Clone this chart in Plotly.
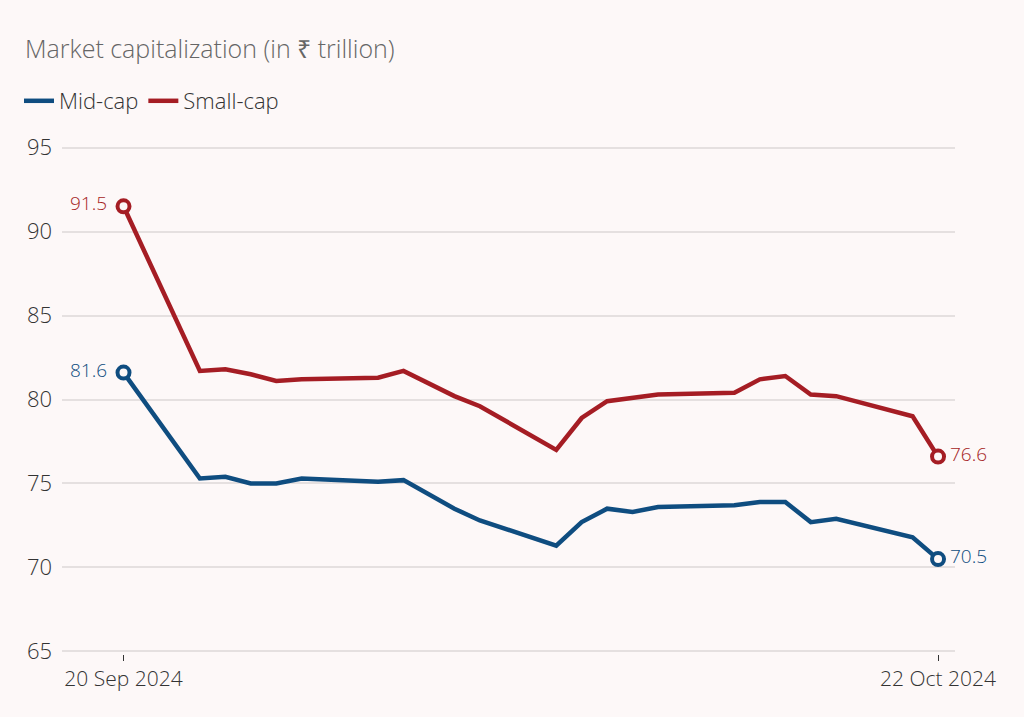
import plotly.graph_objects as go

dates = ["2024-09-20", "2024-09-23", "2024-09-24", "2024-09-25", "2024-09-26", "2024-09-27",
         "2024-09-30", "2024-10-01", "2024-10-03", "2024-10-04", "2024-10-07", "2024-10-08",
         "2024-10-09", "2024-10-10", "2024-10-11", "2024-10-14", "2024-10-15", "2024-10-16",
         "2024-10-17", "2024-10-18", "2024-10-21", "2024-10-22"]
mid_cap = [81.6, 75.3, 75.4, 75.0, 75.0, 75.3, 75.1, 75.2, 73.5, 72.8, 71.3, 72.7,
           73.5, 73.3, 73.6, 73.7, 73.9, 73.9, 72.7, 72.9, 71.8, 70.5]
small_cap = [91.5, 81.7, 81.8, 81.5, 81.1, 81.2, 81.3, 81.7, 80.2, 79.6, 77.0, 78.9,
             79.9, 80.1, 80.3, 80.4, 81.2, 81.4, 80.3, 80.2, 79.0, 76.6]
y_ticks = [65, 70, 75, 80, 85, 90, 95]
x_tickvals = ["2024-09-20", "2024-10-22"]
x_ticktext = ["20 Sep 2024", "22 Oct 2024"]

BLUE = "#0f4d80"
RED = "#a51d24"
BG = "#fdf8f8"
FONT = "Open Sans"
W = 300

fig = go.Figure()
for name, vals, col in [("Mid-cap", mid_cap, BLUE), ("Small-cap", small_cap, RED)]:
    fig.add_trace(go.Scatter(
        x=dates, y=vals, name=name, mode="lines",
        line=dict(color=col, width=4.5), hoverinfo="skip"))
    fig.add_trace(go.Scatter(
        x=[dates[0], dates[-1]], y=[vals[0], vals[-1]], mode="markers",
        marker=dict(size=12, color=BG, line=dict(color=col, width=4)),
        showlegend=False, hoverinfo="skip"))
    fig.add_annotation(x=dates[0], y=vals[0], text=f"{vals[0]:.1f}", showarrow=False,
                       xanchor="right", yanchor="middle", xshift=-15, yshift=3,
                       font=dict(family=FONT, size=19, color=col, weight=W))
    fig.add_annotation(x=dates[-1], y=vals[-1], text=f"{vals[-1]:.1f}", showarrow=False,
                       xanchor="left", yanchor="middle", xshift=10, yshift=3,
                       font=dict(family=FONT, size=19, color=col, weight=W))

fig.update_layout(
    width=1024, height=717,
    paper_bgcolor=BG, plot_bgcolor=BG,
    margin=dict(l=62, r=69, t=145, b=63, autoexpand=False),
    font=dict(family=FONT, color="#333333", weight=W),
    title=dict(text="Market capitalization (in ₹ trillion)", x=25/1024, xanchor="left",
               y=1 - 49/717, yanchor="middle", xref="container", yref="container",
               font=dict(family=FONT, size=25, color="#666666", weight=W)),
    legend=dict(orientation="h", xref="container", yref="container",
                x=19/1024, xanchor="left", y=1 - 101/717, yanchor="middle",
                font=dict(family=FONT, size=22, color="#333333", weight=W),
                bgcolor="rgba(0,0,0,0)", itemwidth=30, tracegroupgap=0),
    showlegend=True,
)

fig.update_xaxes(
    type="date", range=["2024-09-17 14:00", "2024-10-22 16:00"],
    tickvals=x_tickvals, ticktext=x_ticktext, showgrid=False, zeroline=False,
    ticks="outside", ticklen=6, tickwidth=1, tickcolor="#333333",
    tickfont=dict(family=FONT, size=21, color="#333333", weight=W), showline=False)
fig.update_yaxes(
    range=[64.85, 95.15], tickvals=y_ticks, showgrid=True, gridcolor="#e5e0e0", gridwidth=1.5,
    zeroline=False, ticks="", ticklabelstandoff=9,
    tickfont=dict(family=FONT, size=22, color="#333333", weight=W), showline=False)

fig.write_html("out.html", config={"displayModeBar": False},
               post_script="document.body.style.margin='0';document.body.style.background='" + BG + "';")
